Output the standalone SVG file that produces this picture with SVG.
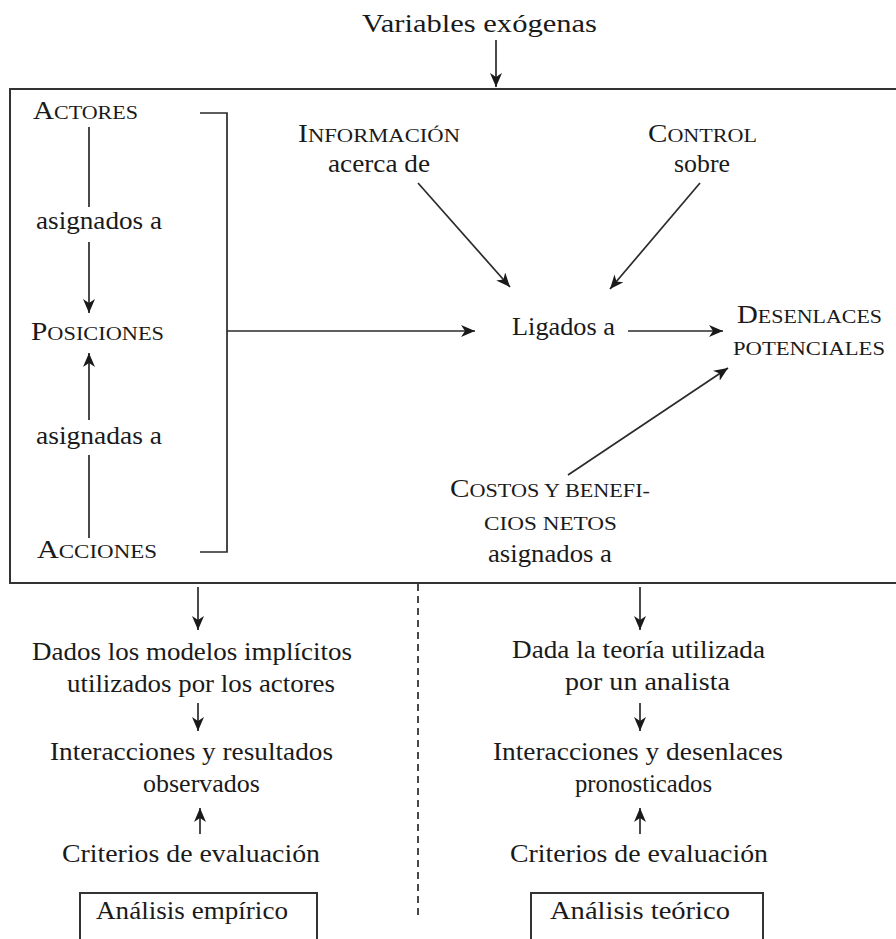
<svg xmlns="http://www.w3.org/2000/svg" width="896" height="939" viewBox="0 0 896 939">
<style>
text{font-family:"Liberation Serif","Times New Roman",Times,serif;font-size:25px;fill:#1a1a1a}
.sc{font-size:19px}
.ln{stroke:#2a2a2a;stroke-width:1.7;fill:none}
.box{stroke:#333;stroke-width:2;fill:none}
</style>
<defs>
<marker id="ah" markerUnits="userSpaceOnUse" markerWidth="16" markerHeight="14" refX="14" refY="6" orient="auto">
<path d="M0,0 L14,6 L0,12 L4,6 z" fill="#1a1a1a"/>
</marker>
</defs>
<rect width="896" height="939" fill="#fff"/>
<g id="frame">
<rect class="box" x="10" y="89" width="892" height="494"/>
</g>
<g id="connectors">
<line class="ln" x1="496" y1="40" x2="496" y2="87" marker-end="url(#ah)"/>
<line class="ln" x1="89" y1="127" x2="89" y2="207"/>
<line class="ln" x1="89" y1="242" x2="89" y2="313" marker-end="url(#ah)"/>
<line class="ln" x1="89" y1="538" x2="89" y2="455"/>
<line class="ln" x1="89" y1="420" x2="89" y2="353" marker-end="url(#ah)"/>
<path class="ln" d="M200,113 H227 V552 H200"/>
<line class="ln" x1="227" y1="331" x2="475" y2="331" marker-end="url(#ah)"/>
<line class="ln" x1="628" y1="331" x2="723" y2="331" marker-end="url(#ah)"/>
<line class="ln" x1="418" y1="183" x2="510" y2="287" marker-end="url(#ah)"/>
<line class="ln" x1="700" y1="183" x2="610" y2="289" marker-end="url(#ah)"/>
<line class="ln" x1="568" y1="475" x2="728" y2="368" marker-end="url(#ah)"/>
<line class="ln" x1="198" y1="587" x2="198" y2="630" marker-end="url(#ah)"/>
<line class="ln" x1="640" y1="587" x2="640" y2="630" marker-end="url(#ah)"/>
<line class="ln" x1="198" y1="703" x2="198" y2="731" marker-end="url(#ah)"/>
<line class="ln" x1="640" y1="703" x2="640" y2="731" marker-end="url(#ah)"/>
<line class="ln" x1="200" y1="834" x2="200" y2="808" marker-end="url(#ah)"/>
<line class="ln" x1="640" y1="834" x2="640" y2="808" marker-end="url(#ah)"/>
<line class="ln" x1="418" y1="584" x2="418" y2="920" stroke-dasharray="7,5"/>
</g>
<g id="n-variables"><text x="362" y="32" textLength="235" lengthAdjust="spacingAndGlyphs">Variables exógenas</text></g>
<g id="n-actores"><text x="33" y="119" textLength="105" lengthAdjust="spacingAndGlyphs">A<tspan class="sc">CTORES</tspan></text></g>
<g id="n-asignados1"><text x="36" y="229" textLength="126" lengthAdjust="spacingAndGlyphs">asignados a</text></g>
<g id="n-posiciones"><text x="31" y="340" textLength="133" lengthAdjust="spacingAndGlyphs">P<tspan class="sc">OSICIONES</tspan></text></g>
<g id="n-asignadas"><text x="36" y="444" textLength="126" lengthAdjust="spacingAndGlyphs">asignadas a</text></g>
<g id="n-acciones"><text x="37" y="558" textLength="120" lengthAdjust="spacingAndGlyphs">A<tspan class="sc">CCIONES</tspan></text></g>
<g id="n-informacion">
<text x="298" y="142" textLength="162" lengthAdjust="spacingAndGlyphs">I<tspan class="sc">NFORMACIÓN</tspan></text>
<text x="328" y="172" textLength="102" lengthAdjust="spacingAndGlyphs">acerca de</text>
</g>
<g id="n-control">
<text x="648" y="142" textLength="109" lengthAdjust="spacingAndGlyphs">C<tspan class="sc">ONTROL</tspan></text>
<text x="674" y="172" textLength="56" lengthAdjust="spacingAndGlyphs">sobre</text>
</g>
<g id="n-ligados"><text x="512" y="335" textLength="103" lengthAdjust="spacingAndGlyphs">Ligados a</text></g>
<g id="n-desenlaces">
<text x="737" y="323" textLength="145" lengthAdjust="spacingAndGlyphs">D<tspan class="sc">ESENLACES</tspan></text>
<text class="sc" x="733" y="355" textLength="152" lengthAdjust="spacingAndGlyphs">POTENCIALES</text>
</g>
<g id="n-costos">
<text x="450" y="497" textLength="200" lengthAdjust="spacingAndGlyphs">C<tspan class="sc">OSTOS Y BENEFI-</tspan></text>
<text class="sc" x="484" y="530" textLength="133" lengthAdjust="spacingAndGlyphs">CIOS NETOS</text>
<text x="488" y="562" textLength="124" lengthAdjust="spacingAndGlyphs">asignados a</text>
</g>
<g id="n-dados">
<text x="32" y="660" textLength="320" lengthAdjust="spacingAndGlyphs">Dados los modelos implícitos</text>
<text x="67" y="692" textLength="268" lengthAdjust="spacingAndGlyphs">utilizados por los actores</text>
</g>
<g id="n-observados">
<text x="50" y="760" textLength="283" lengthAdjust="spacingAndGlyphs">Interacciones y resultados</text>
<text x="143" y="792" textLength="117" lengthAdjust="spacingAndGlyphs">observados</text>
</g>
<g id="n-criterios1"><text x="62" y="862" textLength="258" lengthAdjust="spacingAndGlyphs">Criterios de evaluación</text></g>
<g id="n-empirico">
<rect class="box" x="80" y="893" width="237" height="60"/>
<text x="96" y="919" textLength="192" lengthAdjust="spacingAndGlyphs">Análisis empírico</text>
</g>
<g id="n-dada">
<text x="512" y="658" textLength="253" lengthAdjust="spacingAndGlyphs">Dada la teoría utilizada</text>
<text x="565" y="690" textLength="165" lengthAdjust="spacingAndGlyphs">por un analista</text>
</g>
<g id="n-pronosticados">
<text x="493" y="760" textLength="290" lengthAdjust="spacingAndGlyphs">Interacciones y desenlaces</text>
<text x="575" y="792" textLength="137" lengthAdjust="spacingAndGlyphs">pronosticados</text>
</g>
<g id="n-criterios2"><text x="510" y="862" textLength="258" lengthAdjust="spacingAndGlyphs">Criterios de evaluación</text></g>
<g id="n-teorico">
<rect class="box" x="531" y="893" width="232" height="60"/>
<text x="550" y="919" textLength="180" lengthAdjust="spacingAndGlyphs">Análisis teórico</text>
</g>
</svg>
